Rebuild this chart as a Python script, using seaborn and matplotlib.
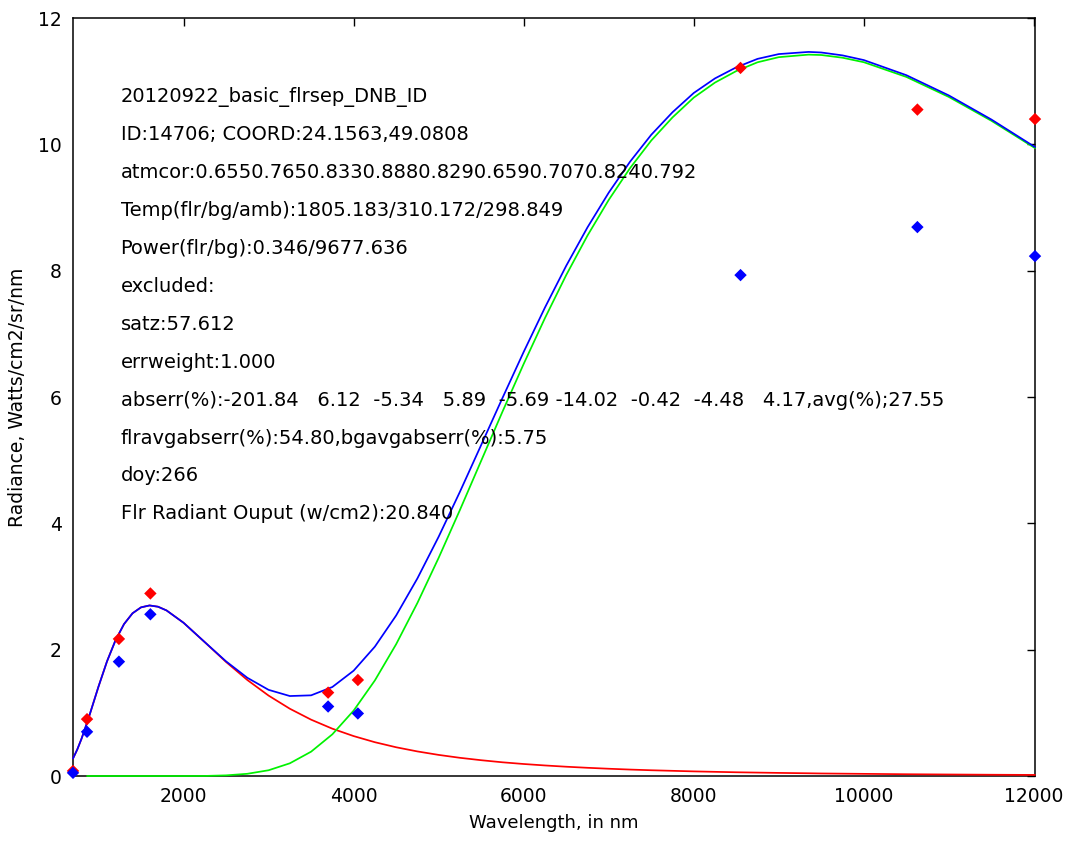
import numpy as np
import pandas as pd
import matplotlib
matplotlib.use("Agg")
import matplotlib.pyplot as plt
import seaborn as sns

# ---- data ----
curve_wl = [700, 750, 800, 865, 900, 1000, 1100, 1200, 1300, 1400, 1500, 1600, 1700, 1800, 2000,
            2250, 2500, 2750, 3000, 3250, 3500, 3750, 4000, 4250, 4500, 4750, 5000, 5250, 5500, 5750,
            6000, 6250, 6500, 6750, 7000, 7250, 7500, 7750, 8000, 8250, 8500, 8750, 9000, 9350, 9500,
            9750, 10000, 10500, 11000, 11500, 12013]
flare_fit = [0.277, 0.419, 0.589, 0.843, 0.988, 1.416, 1.815, 2.149, 2.405, 2.576, 2.670, 2.700, 2.680,
             2.621, 2.426, 2.118, 1.805, 1.520, 1.273, 1.065, 0.892, 0.749, 0.632, 0.535, 0.455, 0.389,
             0.334, 0.288, 0.250, 0.217, 0.190, 0.167, 0.147, 0.130, 0.115, 0.102, 0.091, 0.082, 0.073,
             0.066, 0.059, 0.054, 0.049, 0.043, 0.040, 0.037, 0.034, 0.028, 0.024, 0.020, 0.017]
bg_wl = [865, 900, 1000, 1200, 1400, 1600, 1800, 2000, 2250, 2500, 2750, 3000, 3250, 3500, 3750,
         4000, 4250, 4500, 4750, 5000, 5250, 5500, 5750, 6000, 6250, 6500, 6750, 7000, 7250, 7500,
         7750, 8000, 8250, 8500, 8750, 9000, 9350, 9500, 9750, 10000, 10500, 11000, 11500, 12013]
bg_fit = [0.0, 0.0, 0.0, 0.0, 0.0, 0.0, 0.0, 0.0, 0.001, 0.010, 0.035, 0.091, 0.201, 0.385, 0.660,
          1.035, 1.513, 2.086, 2.739, 3.454, 4.211, 4.99, 5.766, 6.524, 7.249, 7.93, 8.555, 9.12,
          9.622, 10.06, 10.426, 10.74, 10.978, 11.16, 11.299, 11.38, 11.42, 11.414, 11.371, 11.30,
          11.067, 10.75, 10.373, 9.94]
total_fit = [0.277, 0.419, 0.589, 0.843, 0.988, 1.416, 1.815, 2.149, 2.405, 2.576, 2.670, 2.700, 2.680,
             2.621, 2.426, 2.119, 1.815, 1.555, 1.364, 1.266, 1.277, 1.409, 1.667, 2.048, 2.541, 3.128,
             3.788, 4.499, 5.24, 5.983, 6.714, 7.416, 8.077, 8.685, 9.235, 9.724, 10.151, 10.508,
             10.813, 11.044, 11.219, 11.353, 11.429, 11.463, 11.454, 11.408, 11.334, 11.095, 10.774,
             10.393, 9.957]

band_wl = [700, 865, 1240, 1610, 3700, 4050, 8550, 10630, 12013]
obs_corrected = [0.08, 0.90, 2.17, 2.89, 1.32, 1.52, 11.21, 10.55, 10.40]
obs_raw = [0.05, 0.70, 1.81, 2.56, 1.10, 0.99, 7.93, 8.69, 8.23]

x_ticks = [2000, 4000, 6000, 8000, 10000, 12000]
y_ticks = [0, 2, 4, 6, 8, 10, 12]

info_lines = [
    "20120922_basic_flrsep_DNB_ID",
    "ID:14706; COORD:24.1563,49.0808",
    "atmcor:0.6550.7650.8330.8880.8290.6590.7070.8240.792",
    "Temp(flr/bg/amb):1805.183/310.172/298.849",
    "Power(flr/bg):0.346/9677.636",
    "excluded:",
    "satz:57.612",
    "errweight:1.000",
    "abserr(%):-201.84   6.12  -5.34   5.89  -5.69 -14.02  -0.42  -4.48   4.17,avg(%);27.55",
    "flravgabserr(%):54.80,bgavgabserr(%):5.75",
    "doy:266",
    "Flr Radiant Ouput (w/cm2):20.840",
]

# ---- plotting ----
sns.set_style("white")
plt.rcParams['font.family'] = ['DejaVu Sans']

W, H = 1067, 849
fig = plt.figure(figsize=(W / 100, H / 100), dpi=100)
ax = fig.add_axes([73 / W, 1 - 776 / H, (1035 - 73) / W, (776 - 18) / H])

line_kw = dict(lw=1.25, ax=ax, estimator=None, sort=False, zorder=3, clip_on=False)
sns.lineplot(x=curve_wl, y=flare_fit, color=(1, 0, 0), **line_kw)
sns.lineplot(x=bg_wl, y=bg_fit, color=(0, 0.95, 0), **line_kw)
sns.lineplot(x=curve_wl, y=total_fit, color=(0, 0, 1), **line_kw)
sns.scatterplot(x=band_wl, y=obs_corrected, color=(1, 0, 0), marker='D', s=40,
                edgecolor='none', ax=ax, clip_on=False, zorder=5)
sns.scatterplot(x=band_wl, y=obs_raw, color=(0, 0, 1), marker='D', s=40,
                edgecolor='none', ax=ax, clip_on=False, zorder=5)

ax.set_xlim(700, 12013)
ax.set_ylim(0, 12)
ax.set_xticks(x_ticks)
ax.set_yticks(y_ticks)
ax.set_xticklabels([str(t) for t in x_ticks])
ax.set_yticklabels([str(t) for t in y_ticks])
ax.tick_params(direction='in', length=6, width=1, colors='black', labelsize=13.5,
               top=True, right=True, pad=8)
for sp in ax.spines.values():
    sp.set_color('black')
    sp.set_linewidth(1.1)

ax.set_xlabel("Wavelength, in nm", fontsize=13, labelpad=6, color='black')
ax.set_ylabel("Radiance, Watts/cm2/sr/nm", fontsize=13.5, labelpad=8, color='black')

y0 = 10.75
for i, line in enumerate(info_lines):
    ax.text(1260, y0 - 0.6 * i, line, fontsize=14, va='center', ha='left', color='black')

fig.savefig("out.png", dpi=100)
